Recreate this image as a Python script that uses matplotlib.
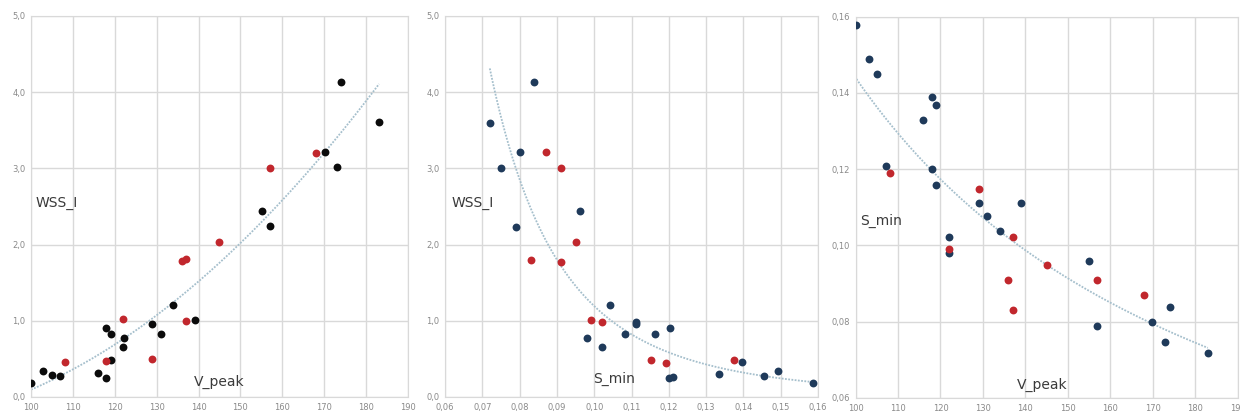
import numpy as np
import matplotlib.pyplot as plt
from matplotlib.ticker import FuncFormatter

# panel 1: V_peak vs WSS_I
v1_black = [100, 102.9, 105, 107, 116, 118, 118, 119, 119, 122.1, 122, 129, 131, 134, 139.1, 155.2, 157.1, 170.2, 173.1, 174.1, 183.1]
w1_black = [0.19, 0.34, 0.29, 0.27, 0.31, 0.25, 0.91, 0.82, 0.48, 0.78, 0.66, 0.96, 0.82, 1.21, 1.01, 2.44, 2.24, 3.21, 3.02, 4.13, 3.61]
v1_red = [108, 118, 122, 129, 136, 137.1, 137.1, 145, 157.1, 168.1]
w1_red = [0.46, 0.47, 1.02, 0.50, 1.78, 1.81, 1.00, 2.04, 3.00, 3.20]

# panel 2: S_min vs WSS_I
s2_navy = [0.072, 0.075, 0.080, 0.0839, 0.0789, 0.0961, 0.1043, 0.0981, 0.1021, 0.1082, 0.1113, 0.1113,
           0.1163, 0.1203, 0.1200, 0.1212, 0.1335, 0.1395, 0.1455, 0.1494, 0.1587]
w2_navy = [3.60, 3.01, 3.21, 4.13, 2.23, 2.44, 1.21, 0.78, 0.65, 0.82, 0.99, 0.96,
           0.82, 0.91, 0.25, 0.26, 0.30, 0.46, 0.28, 0.34, 0.19]
s2_red = [0.0871, 0.0911, 0.0830, 0.0910, 0.0950, 0.0992, 0.1021, 0.1153, 0.1193, 0.1374]
w2_red = [3.21, 3.01, 1.80, 1.77, 2.04, 1.01, 0.99, 0.49, 0.45, 0.48]

# panel 3: V_peak vs S_min
v3_navy = [100.2, 103.1, 105.1, 107.1, 116, 118, 119, 118, 119, 122.1, 122.1, 129, 131, 134, 139,
           154.9, 156.9, 169.9, 172.9, 174, 183]
s3_navy = [0.1579, 0.1488, 0.1450, 0.1209, 0.1329, 0.1389, 0.1368, 0.1200, 0.1159, 0.1021, 0.0979,
           0.1110, 0.1078, 0.1039, 0.1110, 0.0960, 0.0789, 0.0800, 0.0748, 0.0839, 0.0719]
v3_red = [108.1, 122.1, 129, 137, 136, 137, 145, 157, 168]
s3_red = [0.1190, 0.0990, 0.1149, 0.1021, 0.0909, 0.0830, 0.0948, 0.0909, 0.0869]

BLACK = '#0b0b0b'
NAVY = '#1f3a5a'
RED = '#c1272d'
GRID = '#d9d9d9'
TREND = '#a5bfcc'
TICK = '#8a8a8a'
LABEL = '#3a3a3a'


def comma(fmt):
    return FuncFormatter(lambda x, pos: (fmt % x).replace('.', ','))


def style(ax, xlim, ylim, xstep, ystep, xfmt, yfmt):
    ax.set_xlim(xlim)
    ax.set_ylim(ylim)
    ax.set_xticks(np.arange(xlim[0], xlim[1] + xstep / 2, xstep))
    ax.set_yticks(np.arange(ylim[0], ylim[1] + ystep / 2, ystep))
    ax.xaxis.set_major_formatter(comma(xfmt))
    ax.yaxis.set_major_formatter(comma(yfmt))
    ax.grid(True, color=GRID, linewidth=1.0)
    ax.set_axisbelow(True)
    for sp in ax.spines.values():
        sp.set_color(GRID)
    ax.tick_params(length=0, labelsize=6, colors=TICK, pad=4)


def trend_dots(ax, x, y):
    ax.plot(x, y, color=TREND, linewidth=1.3, linestyle=(0, (1, 0.8)), zorder=2)


fig = plt.figure(figsize=(12.4, 4.16), dpi=100)
ax1 = fig.add_axes([0.025, 0.0457, 0.304, 0.916])
ax2 = fig.add_axes([0.3589, 0.0457, 0.3008, 0.916])
ax3 = fig.add_axes([0.690, 0.0433, 0.308, 0.917])

# panel 1 - 2nd order polynomial trend
style(ax1, (100, 190), (0, 5), 10, 1, '%d', '%.1f')
v_all = np.array(v1_black + v1_red)
w_all = np.array(w1_black + w1_red)
c = np.polyfit(v_all, w_all, 2)
xx = np.linspace(v_all.min(), v_all.max(), 200)
trend_dots(ax1, xx, np.polyval(c, xx))
ax1.scatter(v1_black, w1_black, s=32, color=BLACK, zorder=3, linewidths=0)
ax1.scatter(v1_red, w1_red, s=32, color=RED, zorder=3, linewidths=0)
ax1.text(101.2, 2.55, 'WSS_I', fontsize=10, color=LABEL, va='center')
ax1.text(139.0, 0.2, 'V_peak', fontsize=10, color=LABEL, va='center')

# panel 2 - power trend
style(ax2, (0.06, 0.16), (0, 5), 0.01, 1, '%.2f', '%.1f')
s_all = np.array(s2_navy + s2_red)
w_all = np.array(w2_navy + w2_red)
c = np.polyfit(np.log(s_all), np.log(w_all), 1)
xx = np.linspace(s_all.min(), s_all.max(), 200)
trend_dots(ax2, xx, np.exp(np.polyval(c, np.log(xx))))
ax2.scatter(s2_navy, w2_navy, s=32, color=NAVY, zorder=3, linewidths=0)
ax2.scatter(s2_red, w2_red, s=32, color=RED, zorder=3, linewidths=0)
ax2.text(0.0617, 2.55, 'WSS_I', fontsize=10, color=LABEL, va='center')
ax2.text(0.0998, 0.24, 'S_min', fontsize=10, color=LABEL, va='center')

# panel 3 - power trend
style(ax3, (100, 190), (0.06, 0.16), 10, 0.02, '%d', '%.2f')
v_all = np.array(v3_navy + v3_red)
s_all = np.array(s3_navy + s3_red)
c = np.polyfit(np.log(v_all), np.log(s_all), 1)
xx = np.linspace(v_all.min(), v_all.max(), 200)
trend_dots(ax3, xx, np.exp(np.polyval(c, np.log(xx))))
ax3.scatter(v3_navy, s3_navy, s=32, color=NAVY, zorder=3, linewidths=0)
ax3.scatter(v3_red, s3_red, s=32, color=RED, zorder=3, linewidths=0)
ax3.text(101.0, 0.1065, 'S_min', fontsize=10, color=LABEL, va='center')
ax3.text(138.0, 0.0635, 'V_peak', fontsize=10, color=LABEL, va='center')

fig.savefig('out.png', dpi=100)
